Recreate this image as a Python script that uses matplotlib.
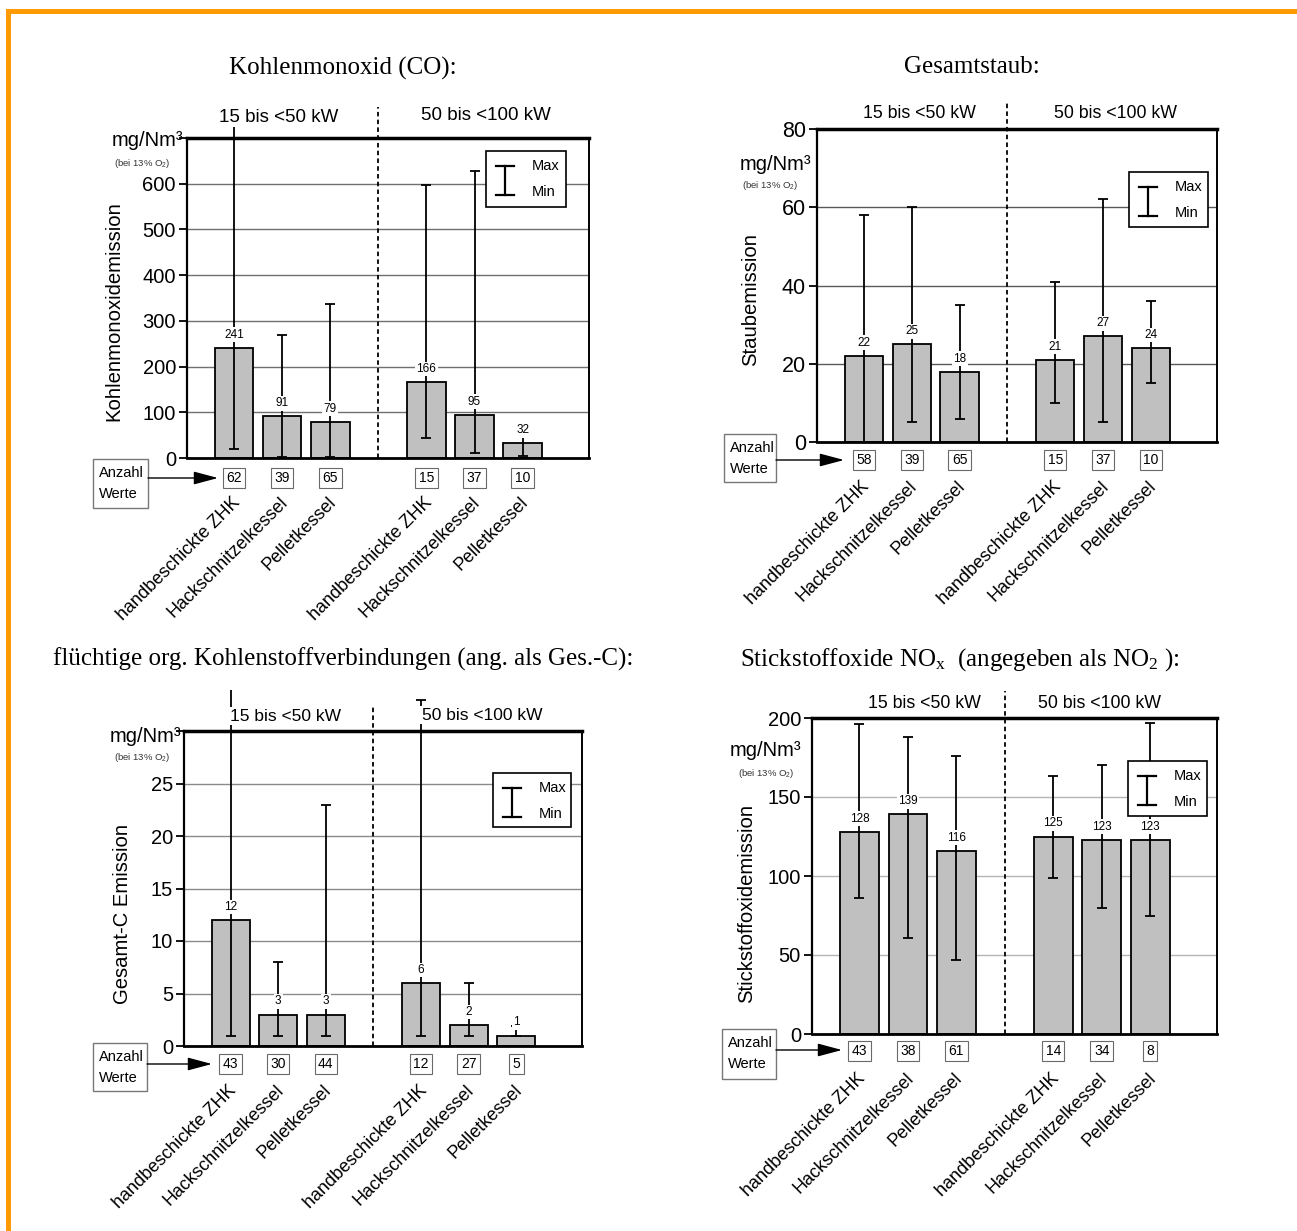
import matplotlib
matplotlib.use("Agg")
import matplotlib.pyplot as plt
from matplotlib.patches import Rectangle, FancyArrowPatch
from matplotlib.lines import Line2D
from matplotlib.transforms import blended_transform_factory, ScaledTranslation

W, H, DPI = 1297, 1231, 100
SANS = ['Liberation Sans', 'DejaVu Sans']
SERIF = ['Liberation Serif', 'DejaVu Serif']
plt.rcParams['font.family'] = SANS
plt.rcParams['mathtext.default'] = 'regular'

# ---- data -------------------------------------------------------------
categories = ["handbeschickte ZHK", "Hackschnitzelkessel", "Pelletkessel",
              "handbeschickte ZHK", "Hackschnitzelkessel", "Pelletkessel"]
positions = [1, 2, 3, 5, 6, 7]
groups = ["15 bis <50 kW", "50 bis <100 kW"]

co_mean = [241, 91, 79, 166, 95, 32]
co_min = [19, 2, 2, 43, 11, 5]
co_max = [800, 270, 336, 598, 627, 45]
co_n = [62, 39, 65, 15, 37, 10]

dust_mean = [22, 25, 18, 21, 27, 24]
dust_min = [0, 5, 6, 10, 5, 15]
dust_max = [58, 60, 35, 41, 62, 36]
dust_n = [58, 39, 65, 15, 37, 10]

voc_mean = [12, 3, 3, 6, 2, 1]
voc_min = [1, 1, 1, 1, 1, 1]
voc_max = [40, 8, 23, 33, 6, 1.9]
voc_n = [43, 30, 44, 12, 27, 5]

nox_mean = [128, 139, 116, 125, 123, 123]
nox_min = [86, 61, 47, 99, 80, 75]
nox_max = [196, 188, 176, 163, 170, 197]
nox_n = [43, 38, 61, 14, 34, 8]

# ---- figure -----------------------------------------------------------
fig = plt.figure(figsize=(W / DPI, H / DPI), dpi=DPI)
fig.patch.set_facecolor('white')


def fx(x):
    return x / W


def fy(y):
    return 1 - y / H


def shift(dx, dy):
    return ScaledTranslation(dx / DPI, -dy / DPI, fig.dpi_scale_trans)


def draw_panel(frame, ymax, ticks, tick_labels, tick_size, grid_color,
               means, mins, maxs, counts, title, title_xy, ylabel, ylabel_xy,
               unit_xy, note_xy, heads, head_size, legend_box, count_dy,
               anz_box, arrow_tip, clip_top, divider_top):
    L, T, R, B = frame
    ax = fig.add_axes([fx(L), fy(B), (R - L) / W, (B - T) / H])
    ax.set_xlim(0.02, 8.38)
    ax.set_ylim(0, ymax)
    ax.set_xticks([])
    ax.set_yticks(ticks, tick_labels)
    ax.tick_params(axis='y', direction='out', length=6, width=1.3,
                   labelsize=tick_size, pad=2)
    ax.yaxis.grid(True, color=grid_color, lw=1.0)
    ax.set_axisbelow(True)
    for side, lw in (('top', 2.5), ('bottom', 2.0), ('left', 1.6), ('right', 1.4)):
        ax.spines[side].set_linewidth(lw)

    ax.bar(positions, means, width=0.8, color='#c0c0c0', edgecolor='black',
           linewidth=1.3, zorder=2)

    lo = [m - a for m, a in zip(means, mins)]
    hi = [b - m for m, b in zip(means, maxs)]
    eb = ax.errorbar(positions, means, yerr=[lo, hi], fmt='none', ecolor='black',
                     elinewidth=1.3, capsize=3.3, capthick=1.3, zorder=3)
    clip = Rectangle((0, -0.2), 1, clip_top + 0.2, transform=ax.transAxes)
    for art in list(eb.lines[1]) + list(eb.lines[2]):
        art.set_clip_path(clip)

    for p, m in zip(positions, means):
        ax.annotate(str(m), (p, m), xytext=(0, 9.4), textcoords='offset points',
                    ha='center', va='center', fontsize=8.5, zorder=5,
                    bbox=dict(boxstyle='square,pad=0.12', fc='white', ec='none'),
                    annotation_clip=False)

    ax.axvline(4, 0, divider_top, color='black', lw=1.3, ls=(0, (2.5, 1.8)),
               clip_on=False, zorder=3)

    xb = blended_transform_factory(ax.transData, ax.transAxes)
    for p, n in zip(positions, counts):
        ax.text(p, 0, str(n), transform=xb + shift(0, count_dy), ha='center',
                va='center', fontsize=10, clip_on=False,
                bbox=dict(boxstyle='square,pad=0.25', fc='white', ec='#6a6a6a', lw=0.8))
    for p, c in zip(positions, categories):
        ax.text(p, 0, c, transform=xb + shift(3, 42), rotation=45, ha='right',
                va='center', rotation_mode='anchor', fontsize=13, clip_on=False)

    # titles and labels
    fig.text(fx(title_xy[0]), fy(title_xy[1]), title, ha='center', va='center',
             fontsize=18, family=SERIF)
    fig.text(fx(ylabel_xy[0]), fy(ylabel_xy[1]), ylabel, rotation=90,
             ha='center', va='center', fontsize=14.6)
    fig.text(fx(unit_xy[0]), fy(unit_xy[1]), 'mg/Nm³', ha='right', va='center',
             fontsize=14.5)
    fig.text(fx(note_xy[0]), fy(note_xy[1]), '(bei 13% O$_2$)', ha='center',
             va='center', fontsize=6.8, color='#333333')
    for (hx, hy), g in zip(heads, groups):
        fig.text(fx(hx), fy(hy), g, ha='center', va='center', fontsize=head_size,
                 zorder=5,
                 bbox=dict(boxstyle='square,pad=0.1', fc='white', ec='none'))

    # Max/Min key
    bx0, by0, bx1, by1 = legend_box
    fig.add_artist(Rectangle((fx(bx0), fy(by1)), (bx1 - bx0) / W, (by1 - by0) / H,
                             transform=fig.transFigure, fc='white', ec='black',
                             lw=1.2, zorder=6))
    sx = bx0 + 19
    ytop, ybot = by0 + 15, by0 + 44
    for seg in (((sx, sx), (ytop, ybot)), ((sx - 9, sx + 9), (ytop, ytop)),
                ((sx - 9, sx + 9), (ybot, ybot))):
        fig.add_artist(Line2D([fx(v) for v in seg[0]], [fy(v) for v in seg[1]],
                              transform=fig.transFigure, color='black', lw=1.6,
                              zorder=7))
    fig.text(fx(bx0 + 46), fy(by0 + 15), 'Max', ha='left', va='center',
             fontsize=10.5, zorder=7)
    fig.text(fx(bx0 + 46), fy(by0 + 41), 'Min', ha='left', va='center',
             fontsize=10.5, zorder=7)

    # "Anzahl Werte" box with arrow to the count boxes
    ax0, ay0, ax1, ay1 = anz_box
    fig.add_artist(Rectangle((fx(ax0), fy(ay1)), (ax1 - ax0) / W, (ay1 - ay0) / H,
                             transform=fig.transFigure, fc='white', ec='#777777',
                             lw=1.0, zorder=4))
    fig.text(fx(ax0 + 6), fy(ay0 + 14), 'Anzahl', ha='left', va='center',
             fontsize=10.5, zorder=5)
    fig.text(fx(ax0 + 6), fy(ay0 + 35), 'Werte', ha='left', va='center',
             fontsize=10.5, zorder=5)
    tx, ty = arrow_tip
    fig.add_artist(FancyArrowPatch((fx(ax1), fy(ty)), (fx(tx), fy(ty)),
                                   transform=fig.transFigure,
                                   arrowstyle='-|>,head_length=0.75,head_width=0.2',
                                   mutation_scale=20, lw=1.0, color='black',
                                   shrinkA=0, shrinkB=0, zorder=5))
    return ax


draw_panel(frame=(187, 138, 589, 458), ymax=700,
           ticks=[0, 100, 200, 300, 400, 500, 600, 700],
           tick_labels=['0', '100', '200', '300', '400', '500', '600', ''],
           tick_size=14.5, grid_color='#707070',
           means=co_mean, mins=co_min, maxs=co_max, counts=co_n,
           title='Kohlenmonoxid (CO):', title_xy=(343, 68),
           ylabel='Kohlenmonoxidemission', ylabel_xy=(114, 311),
           unit_xy=(183, 140), note_xy=(142, 163),
           heads=[(279, 117), (486, 115)], head_size=13.5,
           legend_box=(486, 151, 566, 207), count_dy=20,
           anz_box=(93, 459, 148, 508), arrow_tip=(218, 478),
           clip_top=1.08, divider_top=1.097)

draw_panel(frame=(817, 129, 1217, 442), ymax=80,
           ticks=[0, 20, 40, 60, 80],
           tick_labels=['0', '20', '40', '60', '80'],
           tick_size=15.5, grid_color='#5a5a5a',
           means=dust_mean, mins=dust_min, maxs=dust_max, counts=dust_n,
           title='Gesamtstaub:', title_xy=(972, 67),
           ylabel='Staubemission', ylabel_xy=(751, 300),
           unit_xy=(811, 165), note_xy=(770, 185),
           heads=[(919, 113), (1116, 113)], head_size=12.8,
           legend_box=(1129, 172, 1208, 227), count_dy=18,
           anz_box=(724, 434, 776, 482), arrow_tip=(844, 460),
           clip_top=1.2, divider_top=1.085)

draw_panel(frame=(184, 731, 582, 1046), ymax=30,
           ticks=[0, 5, 10, 15, 20, 25, 30],
           tick_labels=['0', '5', '10', '15', '20', '25', ''],
           tick_size=14.5, grid_color='#8a8a8a',
           means=voc_mean, mins=voc_min, maxs=voc_max, counts=voc_n,
           title='flüchtige org. Kohlenstoffverbindungen (ang. als Ges.-C):',
           title_xy=(343, 659),
           ylabel='Gesamt-C Emission', ylabel_xy=(123, 914),
           unit_xy=(181, 737), note_xy=(142, 757),
           heads=[(286, 716), (482, 715)], head_size=12.5,
           legend_box=(493, 773, 571, 827), count_dy=18,
           anz_box=(93, 1043, 147, 1091), arrow_tip=(212, 1064),
           clip_top=1.13, divider_top=1.083)

draw_panel(frame=(812, 718, 1217, 1034), ymax=200,
           ticks=[0, 50, 100, 150, 200],
           tick_labels=['0', '50', '100', '150', '200'],
           tick_size=14.5, grid_color='#b4b4b4',
           means=nox_mean, mins=nox_min, maxs=nox_max, counts=nox_n,
           title='Stickstoffoxide NO$_x$  (angegeben als NO$_2$ ):',
           title_xy=(960, 660),
           ylabel='Stickstoffoxidemission', ylabel_xy=(747, 903),
           unit_xy=(801, 750), note_xy=(766, 774),
           heads=[(924, 704), (1099, 704)], head_size=12.8,
           legend_box=(1128, 761, 1207, 816), count_dy=17,
           anz_box=(722, 1029, 776, 1079), arrow_tip=(842, 1050),
           clip_top=1.2, divider_top=1.085)

# orange page frame (top and left edge)
fig.add_artist(Rectangle((fx(6), fy(14)), (W - 6) / W, 5 / H,
                         transform=fig.transFigure, color='#FF9A00', lw=0, zorder=10))
fig.add_artist(Rectangle((fx(6), 0), 5 / W, fy(9),
                         transform=fig.transFigure, color='#FF9A00', lw=0, zorder=10))

fig.savefig('out.png', dpi=DPI, facecolor='white')
